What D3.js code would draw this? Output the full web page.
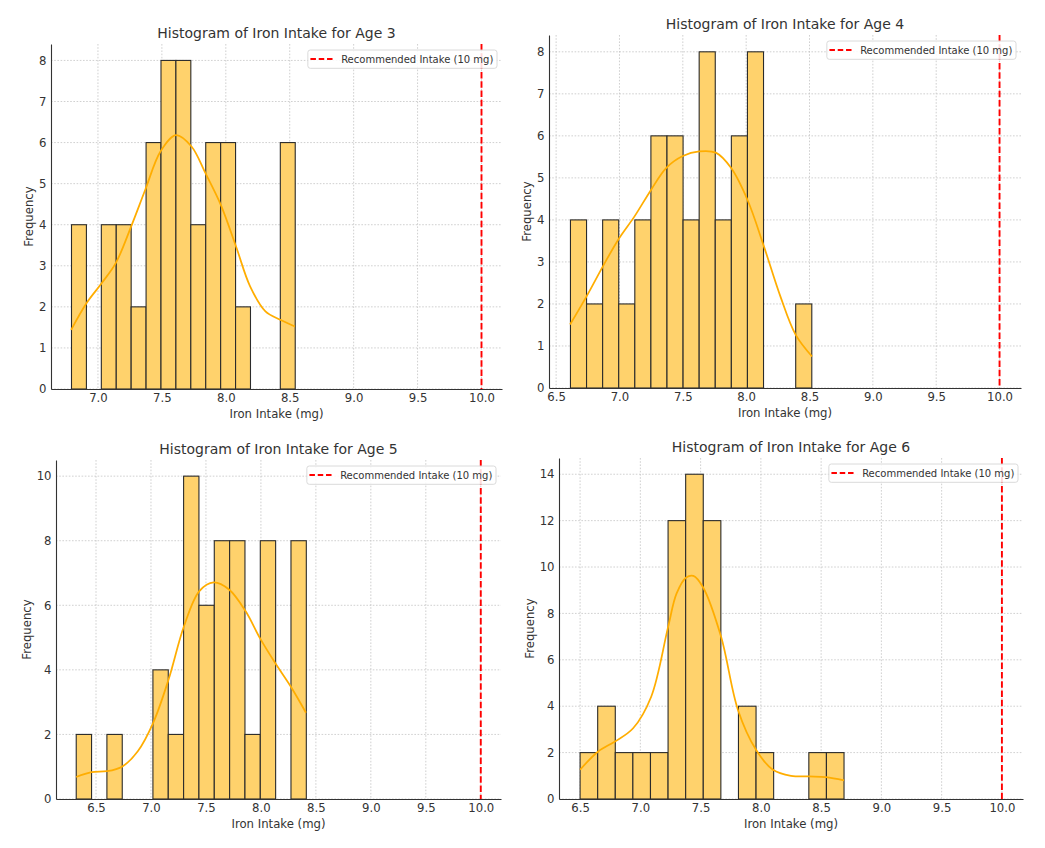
<!DOCTYPE html>
<html><head><meta charset="utf-8">
<script src="https://cdn.jsdelivr.net/npm/d3@7/dist/d3.min.js"></script>
<style>
body{margin:0;background:#fff}
text{font-family:"DejaVu Sans",sans-serif;fill:#333}
</style>
</head><body>
<svg id="chart" width="1045" height="848"></svg>
<script>
// ---- data ----
const ages = [3, 4, 5, 6];
const recommended = 10;
const legendLabel = "Recommended Intake (10 mg)";
const binMin = [6.793, 6.613, 6.32, 6.5];
const binMax = [8.543, 8.518, 8.413, 8.69];

const counts3 = [4, 0, 4, 4, 2, 6, 8, 8, 4, 6, 6, 2, 0, 0, 6];
const counts4 = [4, 2, 4, 2, 4, 6, 6, 4, 8, 4, 6, 8, 0, 0, 2];
const counts5 = [2, 0, 2, 0, 0, 4, 2, 10, 6, 8, 8, 2, 8, 0, 8];
const counts6 = [2, 4, 2, 2, 2, 12, 14, 12, 0, 4, 2, 0, 0, 2, 2];

const kdeX3 = [6.79, 6.91, 7.03, 7.14, 7.26, 7.37, 7.49, 7.61, 7.73, 7.84, 7.96, 8.08, 8.19, 8.31, 8.43, 8.54];
const kdeY3 = [1.44, 2.09, 2.58, 3.07, 3.96, 4.85, 5.79, 6.18, 5.91, 5.26, 4.49, 3.47, 2.5, 1.89, 1.68, 1.52];
const kdeX4 = [6.61, 6.74, 6.87, 6.99, 7.12, 7.25, 7.37, 7.50, 7.63, 7.76, 7.88, 8.01, 8.14, 8.27, 8.39, 8.52];
const kdeY4 = [1.51, 2.18, 2.9, 3.53, 4.09, 4.72, 5.24, 5.52, 5.63, 5.6, 5.24, 4.48, 3.37, 2.18, 1.27, 0.75];
const kdeX5 = [6.32, 6.46, 6.60, 6.74, 6.88, 7.02, 7.16, 7.30, 7.44, 7.57, 7.71, 7.86, 7.99, 8.13, 8.27, 8.41];
const kdeY5 = [0.68, 0.83, 0.86, 1.01, 1.48, 2.36, 3.7, 5.35, 6.44, 6.71, 6.49, 5.82, 4.99, 4.21, 3.49, 2.67];
const kdeX6 = [6.5, 6.65, 6.79, 6.94, 7.09, 7.23, 7.30, 7.38, 7.44, 7.52, 7.67, 7.81, 7.96, 8.10, 8.25, 8.40, 8.54, 8.69];
const kdeY6 = [1.26, 2.05, 2.48, 3.05, 4.41, 7.41, 8.85, 9.55, 9.62, 9.13, 6.99, 3.84, 2.12, 1.26, 1.0, 0.97, 0.94, 0.8];

const xTicks3 = [7.0, 7.5, 8.0, 8.5, 9.0, 9.5, 10.0];
const xTicksWide = [6.5, 7.0, 7.5, 8.0, 8.5, 9.0, 9.5, 10.0];
const yTicks3 = [0, 1, 2, 3, 4, 5, 6, 7, 8];
const yTicks4 = [0, 1, 2, 3, 4, 5, 6, 7, 8];
const yTicks5 = [0, 2, 4, 6, 8, 10];
const yTicks6 = [0, 2, 4, 6, 8, 10, 12, 14];

// ---- build panel table ----
const panels = [
  {age: ages[0], counts: counts3, kx: kdeX3, ky: kdeY3, xt: xTicks3, yt: yTicks3, lo: binMin[0], hi: binMax[0]},
  {age: ages[1], counts: counts4, kx: kdeX4, ky: kdeY4, xt: xTicksWide, yt: yTicks4, lo: binMin[1], hi: binMax[1]},
  {age: ages[2], counts: counts5, kx: kdeX5, ky: kdeY5, xt: xTicksWide, yt: yTicks5, lo: binMin[2], hi: binMax[2]},
  {age: ages[3], counts: counts6, kx: kdeX6, ky: kdeY6, xt: xTicksWide, yt: yTicks6, lo: binMin[3], hi: binMax[3]}
];
const frames = [
  {l: 51, r: 502, t: 44, b: 389},
  {l: 549, r: 1021, t: 35, b: 388},
  {l: 56, r: 501, t: 460, b: 799},
  {l: 559, r: 1023, t: 458, b: 799}
];

const svg = d3.select("#chart");
const FS = 11.7;
const barFill = "#FFD26C";
const kdeColor = "#FFAD00";

panels.forEach((p, i) => {
  const f = frames[i];
  const span = recommended - p.lo;
  const x = d3.scaleLinear().domain([p.lo - 0.05 * span, recommended + 0.05 * span]).range([f.l, f.r]);
  const yMax = d3.max(p.counts) * 1.05;
  const y = d3.scaleLinear().domain([0, yMax]).range([f.b, f.t]);
  const g = svg.append("g");

  // grid
  g.append("g").selectAll("line.v").data(p.xt).join("line")
    .attr("x1", d => x(d)).attr("x2", d => x(d)).attr("y1", f.t).attr("y2", f.b)
    .attr("stroke", "#c4c4c4").attr("stroke-width", 0.8).attr("stroke-dasharray", "1.6,1.6");
  g.append("g").selectAll("line.h").data(p.yt).join("line")
    .attr("x1", f.l).attr("x2", f.r).attr("y1", d => y(d)).attr("y2", d => y(d))
    .attr("stroke", "#c4c4c4").attr("stroke-width", 0.8).attr("stroke-dasharray", "1.6,1.6");

  // bars
  const n = p.counts.length;
  const w = (p.hi - p.lo) / n;
  const bins = p.counts.map((c, k) => ({x0: p.lo + k * w, x1: p.lo + (k + 1) * w, c}));
  g.append("g").selectAll("rect").data(bins.filter(d => d.c > 0)).join("rect")
    .attr("x", d => x(d.x0)).attr("width", d => x(d.x1) - x(d.x0))
    .attr("y", d => y(d.c)).attr("height", d => y(0) - y(d.c))
    .attr("fill", barFill).attr("stroke", "#2b2b2b").attr("stroke-width", 1.1);

  // kde
  const pts = p.kx.map((v, k) => [v, p.ky[k]]);
  g.append("path").datum(pts)
    .attr("d", d3.line().x(d => x(d[0])).y(d => y(d[1])).curve(d3.curveCatmullRom.alpha(0.5)))
    .attr("fill", "none").attr("stroke", kdeColor).attr("stroke-width", 1.75);

  // recommended line
  g.append("line").attr("x1", x(recommended)).attr("x2", x(recommended)).attr("y1", f.t).attr("y2", f.b)
    .attr("stroke", "#ff0000").attr("stroke-width", 1.9).attr("stroke-dasharray", "6.5,2.8");

  // axes
  const xa = g.append("g").attr("transform", `translate(0,${f.b})`)
    .call(d3.axisBottom(x).tickValues(p.xt).tickFormat(d3.format(".1f")).tickSize(0).tickSizeOuter(0).tickPadding(4.6));
  const ya = g.append("g").attr("transform", `translate(${f.l},0)`)
    .call(d3.axisLeft(y).tickValues(p.yt).tickFormat(d3.format("d")).tickSize(0).tickSizeOuter(0).tickPadding(4.5));
  [xa, ya].forEach(a => {
    a.select(".domain").attr("stroke", "#333").attr("stroke-width", 1.1);
    a.selectAll("text").attr("font-size", FS).attr("font-family", '"DejaVu Sans",sans-serif').attr("fill", "#333");
  });
  let maxW = 0;
  ya.selectAll("text").each(function(){ maxW = Math.max(maxW, this.getComputedTextLength()); });

  // labels
  g.append("text").attr("x", (f.l + f.r) / 2).attr("y", f.t - 6).attr("text-anchor", "middle")
    .attr("font-size", 14).text(`Histogram of Iron Intake for Age ${p.age}`);
  g.append("text").attr("x", (f.l + f.r) / 2).attr("y", f.b + 29).attr("text-anchor", "middle")
    .attr("font-size", FS).text("Iron Intake (mg)");
  const yl = f.l - 4.5 - maxW - 6;
  g.append("text").attr("transform", `translate(${yl},${(f.t + f.b) / 2}) rotate(-90)`)
    .attr("text-anchor", "middle").attr("font-size", FS).text("Frequency");

  // legend
  const lg = g.append("g");
  const box = lg.append("rect");
  const lt = lg.append("text").attr("font-size", 10).text(legendLabel);
  const tw = lt.node().getComputedTextLength();
  const bw = tw + 37, bh = 18.3;
  const bx = f.r - 5 - bw, by = f.t + 6;
  box.attr("x", bx).attr("y", by).attr("width", bw).attr("height", bh).attr("rx", 2.5)
    .attr("fill", "#fff").attr("fill-opacity", 0.85).attr("stroke", "#d6d6d6").attr("stroke-width", 0.9);
  lt.attr("x", bx + 33.3).attr("y", by + 12.8);
  lg.append("line").attr("x1", bx + 2.6).attr("x2", bx + 25).attr("y1", by + 9).attr("y2", by + 9)
    .attr("stroke", "#ff0000").attr("stroke-width", 1.9).attr("stroke-dasharray", "5.5,2.8");
});
</script>
</body></html>
